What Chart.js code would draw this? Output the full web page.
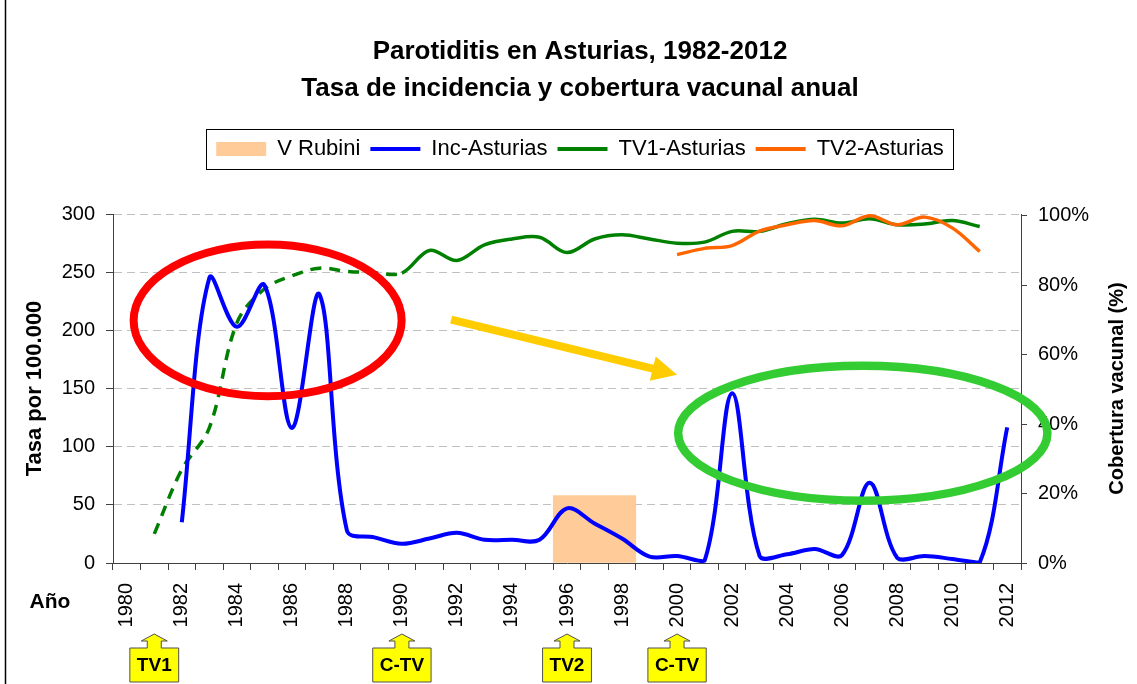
<!DOCTYPE html>
<html>
<head>
<meta charset="utf-8">
<script src="https://cdn.jsdelivr.net/npm/chart.js@4.4.0/dist/chart.umd.min.js"></script>
<style>
html,body{margin:0;padding:0;background:#fff;}
canvas{display:block;}
</style>
</head>
<body>
<canvas id="c" width="1137" height="684"></canvas>
<script>
// ---------- DATA ----------
const years = [1980,1981,1982,1983,1984,1985,1986,1987,1988,1989,1990,1991,1992,1993,1994,1995,1996,1997,1998,1999,2000,2001,2002,2003,2004,2005,2006,2007,2008,2009,2010,2011,2012];

// V Rubini period (left axis)
const vRubini = [null,null,null,null,null,null,null,null,null,null,null,null,null,null,null,null,58,58,58,null,null,null,null,null,null,null,null,null,null,null,null,null,null];

// Incidence rate per 100.000 (left axis)
const incAsturias = [null,null,35,245,203,239,116,231,28,22,16.5,21,26,20,20,20,47,34,21,5.5,6,2,146,6,7.5,12,7,69,4.5,6,3.5,0.5,116.5];

// Vaccine coverage dose 1 (%) (right axis)
const tv1Asturias = [null,8.4,26.9,38.9,69.1,78.9,82.7,84.9,84,83.6,83.5,90,87.1,91.6,93.3,93.8,89.4,93.3,94.5,93.3,92.1,92.4,95.5,95.5,97.7,99,97.9,99.1,97.4,97.6,98.6,96.9,null];

// Vaccine coverage dose 2 (%) (right axis)
const tv2Asturias = [null,null,null,null,null,null,null,null,null,null,null,null,null,null,null,null,null,null,null,null,88.8,90.6,91.4,95.6,97.4,98.6,97.1,100,97.4,99.6,96.5,89.7,null];

const leftTickStep = 50;
const rightTickStep = 20;

// callouts under the axis
const calloutYears = [1981, 1990, 1996, 2000];
const calloutLabels = ['TV1', 'C-TV', 'TV2', 'C-TV'];

const titleLines = ['Parotiditis en Asturias, 1982-2012', 'Tasa de incidencia y cobertura vacunal anual'];

// ---------- DRAWING ----------
const FONT = "'Liberation Sans', Arial, Helvetica, sans-serif";
Chart.defaults.font.family = FONT;
Chart.defaults.color = '#000';

const overlay = {
  id: 'overlay',
  afterDatasetsDraw(chart) {
    const ctx = chart.ctx;
    const xs = chart.scales.x, ys = chart.scales.y;
    const X = yr => xs.getPixelForValue(yr - years[0]);
    const Y = v => ys.getPixelForValue(v);
    const ell = (yr, v, rYears, rVal, color, w) => {
      const cx = X(yr), cy = Y(v);
      const rx = X(yr + rYears) - cx, ry = cy - Y(v + rVal);
      ctx.save();
      ctx.beginPath();
      ctx.ellipse(cx, cy, rx, ry, 0, 0, Math.PI * 2);
      ctx.lineWidth = w;
      ctx.strokeStyle = color;
      ctx.stroke();
      ctx.restore();
    };
    ell(1985.12, 208.5, 4.87, 65.2, '#FF0000', 8);
    ell(2006.75, 111.6, 6.71, 58, '#33CC33', 8.5);

    // yellow arrow
    const x1 = X(1991.79), y1 = Y(209.3), x2 = X(2000.0), y2 = Y(161.9);
    const ang = Math.atan2(y2 - y1, x2 - x1);
    const headLen = 25, headHalf = 12.5;
    const bx = x2 - Math.cos(ang) * headLen, by = y2 - Math.sin(ang) * headLen;
    ctx.save();
    ctx.strokeStyle = '#FFCC00';
    ctx.fillStyle = '#FFCC00';
    ctx.lineWidth = 8;
    ctx.beginPath();
    ctx.moveTo(x1, y1);
    ctx.lineTo(bx + Math.cos(ang) * 2, by + Math.sin(ang) * 2);
    ctx.stroke();
    ctx.beginPath();
    ctx.moveTo(x2, y2);
    ctx.lineTo(bx - Math.sin(ang) * headHalf, by + Math.cos(ang) * headHalf);
    ctx.lineTo(bx + Math.sin(ang) * headHalf, by - Math.cos(ang) * headHalf);
    ctx.closePath();
    ctx.fill();
    ctx.restore();
  },
  afterDraw(chart) {
    const ctx = chart.ctx;
    const xs = chart.scales.x;
    const area = chart.chartArea;

    // legend frame
    const hb = chart.legend.legendHitBoxes;
    if (hb && hb.length) {
      const l = Math.min(...hb.map(h => h.left)) - 10;
      const r = Math.max(...hb.map(h => h.left + h.width)) + 9;
      const t = Math.min(...hb.map(h => h.top)) - 9;
      const b = Math.max(...hb.map(h => h.top + h.height)) + 9;
      ctx.save();
      ctx.strokeStyle = '#000';
      ctx.lineWidth = 1;
      ctx.strokeRect(Math.round(l) + 0.5, Math.round(t) + 0.5, Math.round(r - l), Math.round(b - t));
      ctx.restore();
    }

    // right axis title (reads bottom to top)
    ctx.save();
    ctx.translate(1117, (area.top + area.bottom) / 2);
    ctx.rotate(-Math.PI / 2);
    ctx.font = "bold 20px " + FONT;
    ctx.fillStyle = '#000';
    ctx.textAlign = 'center';
    ctx.textBaseline = 'middle';
    ctx.fillText('Cobertura vacunal (%)', 0, 0);
    ctx.restore();

    // "Año"
    ctx.save();
    ctx.font = "bold 21px " + FONT;
    ctx.fillStyle = '#000';
    ctx.textAlign = 'center';
    ctx.textBaseline = 'alphabetic';
    ctx.fillText('Año', 50, area.bottom + 45);
    ctx.restore();

    // callouts
    ctx.save();
    ctx.font = "bold 19px " + FONT;
    calloutYears.forEach((yr, i) => {
      const cx = xs.getPixelForValue(years.indexOf(yr));
      const label = calloutLabels[i];
      const tw = ctx.measureText(label).width;
      const hw = tw / 2 + 7;
      const tip = area.bottom + 71, sh = tip + 7, top = sh + 7, bot = top + 34;
      ctx.beginPath();
      ctx.moveTo(cx, tip);
      ctx.lineTo(cx + 13, sh);
      ctx.lineTo(cx + 7, sh);
      ctx.lineTo(cx + 7, top);
      ctx.lineTo(cx + hw, top);
      ctx.lineTo(cx + hw, bot);
      ctx.lineTo(cx - hw, bot);
      ctx.lineTo(cx - hw, top);
      ctx.lineTo(cx - 7, top);
      ctx.lineTo(cx - 7, sh);
      ctx.lineTo(cx - 13, sh);
      ctx.closePath();
      ctx.fillStyle = '#FFFF00';
      ctx.fill();
      ctx.strokeStyle = '#505050';
      ctx.lineWidth = 1;
      ctx.stroke();
      ctx.fillStyle = '#000';
      ctx.textAlign = 'center';
      ctx.textBaseline = 'middle';
      ctx.fillText(label, cx, (top + bot) / 2 + 1);
    });
    ctx.restore();

    // outer frame (left edge)
    ctx.save();
    ctx.strokeStyle = '#000';
    ctx.lineWidth = 1.5;
    ctx.beginPath();
    ctx.moveTo(5.5, 0);
    ctx.lineTo(5.5, chart.height);
    ctx.stroke();
    ctx.restore();
  }
};

new Chart(document.getElementById('c').getContext('2d'), {
  type: 'bar',
  data: {
    labels: years.map(String),
    datasets: [
      { type: 'bar', label: 'V Rubini', data: vRubini, backgroundColor: '#FFCC99', borderWidth: 0,
        categoryPercentage: 1, barPercentage: 1, yAxisID: 'y', order: 4 },
      { type: 'line', label: 'Inc-Asturias', data: incAsturias, borderColor: '#0000FF', backgroundColor: '#0000FF',
        borderWidth: 4, pointRadius: 0, tension: 0.35, yAxisID: 'y', order: 0, borderJoinStyle: 'round' },
      { type: 'line', label: 'TV1-Asturias', data: tv1Asturias, borderColor: '#008000', backgroundColor: '#008000',
        borderWidth: 3.5, pointRadius: 0, tension: 0.35, yAxisID: 'y1', order: 2, borderJoinStyle: 'round',
        segment: { borderDash: c => (c.p1DataIndex <= 10 ? [11, 8] : undefined) } },
      { type: 'line', label: 'TV2-Asturias', data: tv2Asturias, borderColor: '#FF6600', backgroundColor: '#FF6600',
        borderWidth: 3.5, pointRadius: 0, tension: 0.35, yAxisID: 'y1', order: 1, borderJoinStyle: 'round' }
    ]
  },
  options: {
    responsive: false,
    animation: false,
    events: [],
    layout: { padding: { left: 23, right: 0, top: 0, bottom: 0 } },
    plugins: {
      title: {
        display: true, text: titleLines, color: '#000',
        font: { size: 26, weight: 'bold', lineHeight: 37 / 26 },
        padding: { top: 33, bottom: 21 }
      },
      subtitle: {
        display: true, text: '', weight: 500, padding: 0,
        font: { size: 44, lineHeight: 1 }
      },
      legend: {
        display: true,
        labels: {
          usePointStyle: true, pointStyleWidth: 50, boxHeight: 14, padding: 10,
          font: { size: 22 }, color: '#000',
          sort: (a, b) => a.datasetIndex - b.datasetIndex,
          generateLabels(chart) {
            const items = Chart.defaults.plugins.legend.labels.generateLabels(chart);
            items.forEach(it => {
              if (it.datasetIndex === 0) { it.pointStyle = 'rect'; it.lineWidth = 0; it.fillStyle = '#FFCC99'; }
              else { it.pointStyle = 'line'; it.lineWidth = 4; }
            });
            return items;
          }
        }
      },
      tooltip: { enabled: false }
    },
    scales: {
      x: {
        offset: true,
        grid: { offset: true, drawOnChartArea: false, drawTicks: true, tickLength: 7, tickColor: '#404040', tickWidth: 1 },
        border: { display: true, color: '#404040', width: 1 },
        ticks: {
          autoSkip: false, maxRotation: 90, minRotation: 90, padding: 13,
          font: { size: 20 }, color: '#000',
          callback: (v, i) => (years[i] % 2 === 0 ? String(years[i]) : '')
        },
        afterFit: s => { s.height = 121; }
      },
      y: {
        position: 'left', min: 0, max: 300,
        ticks: { stepSize: leftTickStep, font: { size: 20 }, padding: 11, color: '#000' },
        grid: {
          color: c => (c.tick && c.tick.value === 0 ? 'rgba(0,0,0,0)' : '#C0C0C0'),
          lineWidth: 1, drawTicks: true, tickLength: 7, tickColor: '#404040', tickBorderDash: []
        },
        border: { display: true, color: '#404040', width: 1, dash: [8, 5] },
        title: {
          display: true, text: 'Tasa por 100.000', color: '#000',
          font: { size: 22, weight: 'bold', lineHeight: 1.1 }, padding: { top: 0, bottom: 0 }
        },
        afterFit: s => { s.width = 90; }
      },
      y1: {
        position: 'right', min: 0, max: 100.5,
        ticks: { stepSize: rightTickStep, includeBounds: false, font: { size: 20 }, padding: 11, color: '#000',
          callback: v => v + '%' },
        grid: { drawOnChartArea: false, drawTicks: true, tickLength: 6, tickColor: '#404040' },
        border: { display: true, color: '#404040', width: 1 },
        afterFit: s => { s.width = 116; }
      }
    }
  },
  plugins: [overlay]
});
</script>
</body>
</html>
